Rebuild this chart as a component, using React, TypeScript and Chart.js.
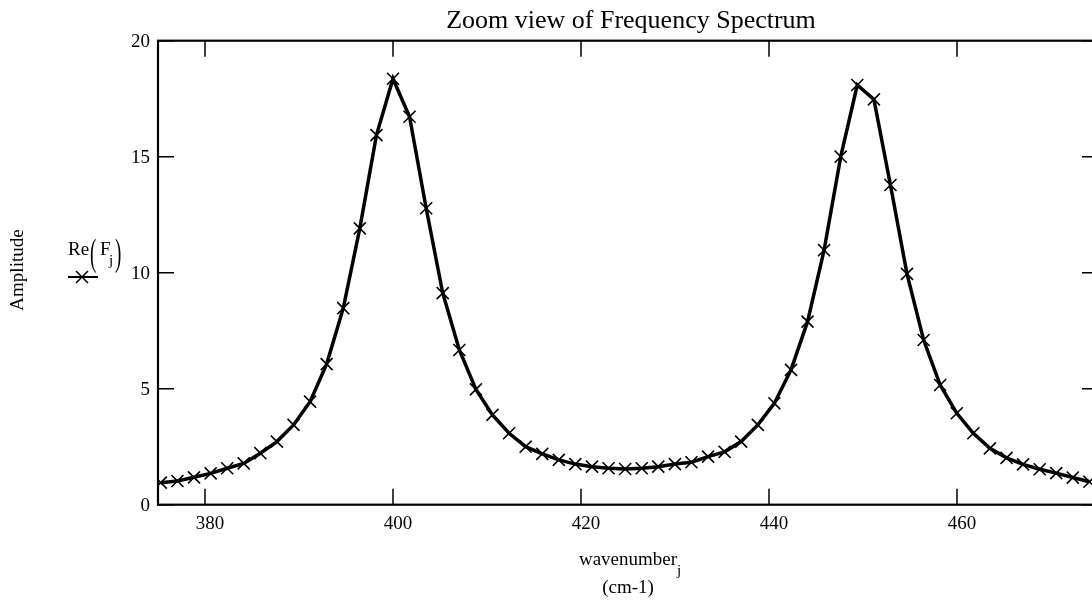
import React, { useEffect, useRef } from "react";
import { Chart, registerables } from "chart.js";

Chart.register(...registerables);

// ---- data ----
const wavenumbers = [
  375.3, 377.07, 378.83, 380.6, 382.36, 384.12, 385.89, 387.65, 389.42, 391.18,
  392.94, 394.71, 396.47, 398.24, 400.0, 401.76, 403.53, 405.29, 407.06, 408.82,
  410.58, 412.35, 414.11, 415.88, 417.64, 419.4, 421.17, 422.93, 424.7, 426.46,
  428.22, 429.99, 431.75, 433.52, 435.28, 437.04, 438.81, 440.57, 442.34, 444.1,
  445.86, 447.63, 449.39, 451.16, 452.92, 454.68, 456.45, 458.21, 459.98, 461.74,
  463.5, 465.27, 467.03, 468.8, 470.56, 472.32, 474.09,
];
const amplitudes = [
  0.95, 1.02, 1.18, 1.35, 1.57, 1.78, 2.22, 2.72, 3.44, 4.44,
  6.06, 8.47, 11.91, 15.93, 18.36, 16.72, 12.78, 9.12, 6.67, 4.97,
  3.87, 3.08, 2.5, 2.19, 1.93, 1.75, 1.64, 1.57, 1.54, 1.57,
  1.64, 1.75, 1.83, 2.07, 2.28, 2.72, 3.44, 4.37, 5.81, 7.89,
  10.97, 15.0, 18.09, 17.47, 13.78, 9.95, 7.1, 5.16, 3.94, 3.08,
  2.43, 2.02, 1.74, 1.53, 1.36, 1.17, 0.99,
];
const xTickValues = [380, 400, 420, 440, 460];
const yTickValues = [0, 5, 10, 15, 20];
const xRange = [375, 475];
const yRange = [0, 20];

const chartTitle = "Zoom view of Frequency Spectrum";
const yAxisTitle = "Amplitude";
const xAxisTitleMain = "wavenumber";
const xAxisTitleSub = "j";
const xAxisUnit = "(cm-1)";
const legendFunc = "Re";
const legendInner = "F";
const legendSub = "j";

const SERIF = "'Liberation Serif', 'Times New Roman', Times, serif";

const decorPlugin = {
  id: "decor",
  beforeDatasetsDraw(chart: any) {
    const { ctx, chartArea } = chart;
    const { left, right, top, bottom } = chartArea;
    const xs = chart.scales.x;
    const ys = chart.scales.y;
    ctx.save();
    ctx.strokeStyle = "#000";
    ctx.lineWidth = 2.2;
    ctx.strokeRect(left, top, right - left, bottom - top);
    ctx.lineWidth = 1.5;
    const tl = 16;
    ctx.beginPath();
    xTickValues.forEach((v) => {
      const px = xs.getPixelForValue(v);
      ctx.moveTo(px, bottom);
      ctx.lineTo(px, bottom - tl);
      ctx.moveTo(px, top);
      ctx.lineTo(px, top + tl);
    });
    yTickValues.forEach((v) => {
      const py = ys.getPixelForValue(v);
      ctx.moveTo(left, py);
      ctx.lineTo(left + tl, py);
      ctx.moveTo(right, py);
      ctx.lineTo(right - tl, py);
    });
    ctx.stroke();
    ctx.restore();
  },
  afterDraw(chart: any) {
    const { ctx, chartArea } = chart;
    const cx = (chartArea.left + chartArea.right) / 2;
    ctx.save();
    ctx.fillStyle = "#000";
    ctx.textBaseline = "alphabetic";

    // title
    ctx.font = `26px ${SERIF}`;
    ctx.textAlign = "center";
    ctx.fillText(chartTitle, cx + 3, 28);

    // y title
    ctx.save();
    ctx.translate(23, 270);
    ctx.rotate(-Math.PI / 2);
    ctx.font = `19px ${SERIF}`;
    ctx.textAlign = "center";
    ctx.fillText(yAxisTitle, 0, 0);
    ctx.restore();

    // x title
    ctx.font = `19px ${SERIF}`;
    ctx.textAlign = "left";
    const wMain = ctx.measureText(xAxisTitleMain).width;
    const xStart = cx - wMain / 2;
    ctx.fillText(xAxisTitleMain, xStart, 565);
    ctx.font = `15px ${SERIF}`;
    ctx.fillText(xAxisTitleSub, xStart + wMain, 575);
    ctx.font = `19px ${SERIF}`;
    ctx.textAlign = "center";
    ctx.fillText(xAxisUnit, cx, 593);

    // legend text
    ctx.textAlign = "left";
    ctx.font = `19px ${SERIF}`;
    ctx.fillText(legendFunc, 68, 255);
    const drawParen = (ch: string, x: number) => {
      ctx.save();
      ctx.translate(x, 255);
      ctx.scale(1, 2.05);
      ctx.font = `19px ${SERIF}`;
      ctx.fillText(ch, 0, 4.9);
      ctx.restore();
    };
    drawParen("(", 90);
    ctx.fillText(legendInner, 100, 255);
    ctx.font = `15px ${SERIF}`;
    ctx.fillText(legendSub, 109, 265);
    drawParen(")", 115);

    // legend sample
    ctx.strokeStyle = "#000";
    ctx.lineWidth = 2;
    ctx.beginPath();
    ctx.moveTo(68, 277);
    ctx.lineTo(98, 277);
    ctx.stroke();
    ctx.lineWidth = 1.5;
    const r = 6;
    ctx.beginPath();
    ctx.moveTo(82 - r, 277 - r);
    ctx.lineTo(82 + r, 277 + r);
    ctx.moveTo(82 - r, 277 + r);
    ctx.lineTo(82 + r, 277 - r);
    ctx.stroke();
    ctx.restore();
  },
};

export default function App() {
  const canvasRef = useRef<HTMLCanvasElement | null>(null);

  useEffect(() => {
    document.body.style.margin = "0";
    const canvas = canvasRef.current;
    if (!canvas) return;
    const points = wavenumbers.map((x, i) => ({ x, y: amplitudes[i] }));
    const chart = new Chart(canvas, {
      type: "line",
      data: {
        datasets: [
          {
            label: "Re(Fj)",
            data: points,
            borderColor: "#000",
            borderWidth: 3.5,
            tension: 0,
            fill: false,
            pointStyle: "crossRot",
            pointRadius: 8.5,
            pointBorderWidth: 1.6,
            pointBorderColor: "#000",
            pointBackgroundColor: "rgba(0,0,0,0)",
          },
        ],
      },
      options: {
        animation: false,
        responsive: false,
        devicePixelRatio: 1,
        layout: { padding: { top: 40.7, right: 12, bottom: 0, left: 0 } },
        plugins: {
          legend: { display: false },
          title: { display: false },
          tooltip: { enabled: false },
        },
        scales: {
          x: {
            type: "linear",
            position: "bottom",
            min: xRange[0],
            max: xRange[1],
            grid: { display: false, drawTicks: false },
            border: { display: false },
            afterBuildTicks: (s: any) => {
              s.ticks = xTickValues.map((v) => ({ value: v }));
            },
            afterFit: (s: any) => {
              s.height = 98.3;
            },
            ticks: {
              color: "#000",
              padding: 8.4,
              labelOffset: 5,
              maxRotation: 0,
              autoSkip: false,
              font: { family: SERIF, size: 19 },
            },
          },
          y: {
            type: "linear",
            position: "left",
            min: yRange[0],
            max: yRange[1],
            grid: { display: false, drawTicks: false },
            border: { display: false },
            afterBuildTicks: (s: any) => {
              s.ticks = yTickValues.map((v) => ({ value: v }));
            },
            afterFit: (s: any) => {
              s.width = 158;
            },
            ticks: {
              color: "#000",
              padding: 8,
              labelOffset: 1.8,
              autoSkip: false,
              font: { family: SERIF, size: 19 },
            },
          },
        },
      },
      plugins: [decorPlugin],
    });
    return () => chart.destroy();
  }, []);

  return (
    <div
      style={{
        position: "fixed",
        left: 0,
        top: 0,
        width: 1092,
        height: 603,
        overflow: "hidden",
        background: "#fff",
      }}
    >
      <canvas ref={canvasRef} width={1110} height={603} style={{ display: "block" }} />
    </div>
  );
}
